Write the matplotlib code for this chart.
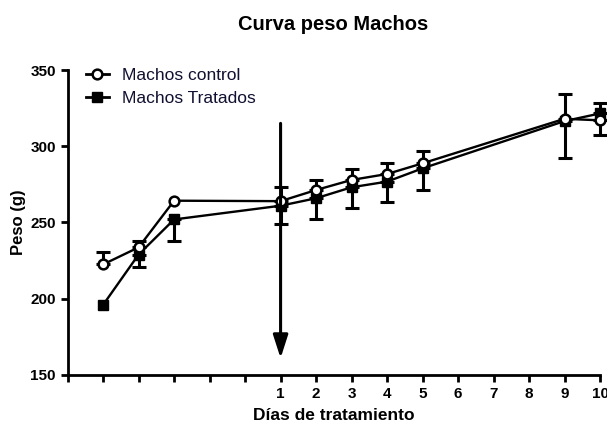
import matplotlib
matplotlib.use("Agg")
import matplotlib.pyplot as plt
from matplotlib.lines import Line2D

plt.rcParams['font.family'] = ['Liberation Sans', 'DejaVu Sans']

# Axis positions: 0..15, labelled days start at position 6
tick_positions = list(range(16))
tick_labels = [""] * 6 + [str(d) for d in range(1, 11)]

x_pos = [1, 2, 3, 6, 7, 8, 9, 10, 14, 15]

control_mean = [222.5, 233.7, 264.3, 264.0, 271.3, 277.9, 281.8, 288.8, 318.0, 317.0]
control_err = [8.0, 4.3, 0.0, 9.3, 6.6, 7.0, 7.4, 8.1, 16.3, 11.6]

tratados_mean = [196.0, 229.0, 252.0, 261.0, 265.9, 273.1, 276.8, 285.5, 316.5, 321.5]
tratados_err = [0.0, 8.4, 14.1, 12.2, 13.4, 13.8, 13.2, 14.2, 24.5, 14.1]

arrow_x = 6
arrow_top = 315
arrow_tip = 161

fig = plt.figure(figsize=(6.07, 4.23), dpi=100)
ax = fig.add_axes([0.1114, 0.1135, 0.9885 - 0.1114, 0.8345 - 0.1135])

err_style = dict(fmt='none', ecolor='black', elinewidth=2.2, capsize=5,
                 capthick=2.2, clip_on=False)

# Treated group: filled squares, error bars downward
tx = [x for x, e in zip(x_pos, tratados_err) if e > 0]
ty = [y for y, e in zip(tratados_mean, tratados_err) if e > 0]
te = [e for e in tratados_err if e > 0]
ax.errorbar(tx, ty, yerr=[te, [0] * len(te)], zorder=2, **err_style)
ax.plot(x_pos, tratados_mean, '-s', color='black', mfc='black', mec='black',
        ms=7, lw=1.7, clip_on=False, zorder=3)

# Control group: open circles, error bars upward
cx = [x for x, e in zip(x_pos, control_err) if e > 0]
cy = [y for y, e in zip(control_mean, control_err) if e > 0]
ce = [e for e in control_err if e > 0]
ax.errorbar(cx, cy, yerr=[[0] * len(ce), ce], zorder=2, **err_style)
ax.plot(x_pos, control_mean, '-o', color='black', mfc='white', mec='black',
        mew=1.8, ms=7, lw=1.7, clip_on=False, zorder=4)

# Start of treatment marker
ax.annotate("", xy=(arrow_x, arrow_tip), xytext=(arrow_x, arrow_top),
            arrowprops=dict(arrowstyle="-|>,head_length=1.4,head_width=0.45",
                            color='black', lw=2.2, shrinkA=0, shrinkB=0),
            zorder=5)

ax.set_xlim(0, 15)
ax.set_ylim(150, 350)
ax.set_xticks(tick_positions)
ax.set_xticklabels(tick_labels)
ax.set_yticks([150, 200, 250, 300, 350])

for s in ['top', 'right']:
    ax.spines[s].set_visible(False)
for s in ['left', 'bottom']:
    ax.spines[s].set_linewidth(2)
ax.tick_params(axis='both', direction='out', length=5, width=2, labelsize=11)
for lab in ax.get_xticklabels() + ax.get_yticklabels():
    lab.set_fontweight('bold')

ax.set_xlabel("Días de tratamiento", fontsize=12.5, fontweight='bold', labelpad=5)
ax.set_ylabel("Peso (g)", fontsize=12, fontweight='bold', labelpad=3)
fig.text(333 / 607, 1 - 25 / 423, "Curva peso Machos", fontsize=14.5,
         fontweight='bold', ha='center', va='center')

handles = [
    Line2D([], [], color='black', lw=2, marker='o', mfc='white', mec='black',
           mew=1.8, ms=7),
    Line2D([], [], color='black', lw=2, marker='s', mfc='black', mec='black', ms=7),
]
leg = fig.legend(handles, ['Machos control', 'Machos Tratados'], loc='upper left',
                 frameon=False, fontsize=12.5, handlelength=1.3, handletextpad=0.8,
                 labelspacing=0.45, borderpad=0, borderaxespad=0,
                 bbox_to_anchor=(86 / 607, 1 - 68 / 423),
                 bbox_transform=fig.transFigure)
for t in leg.get_texts():
    t.set_color('#101030')

fig.savefig("out.png", dpi=100)
